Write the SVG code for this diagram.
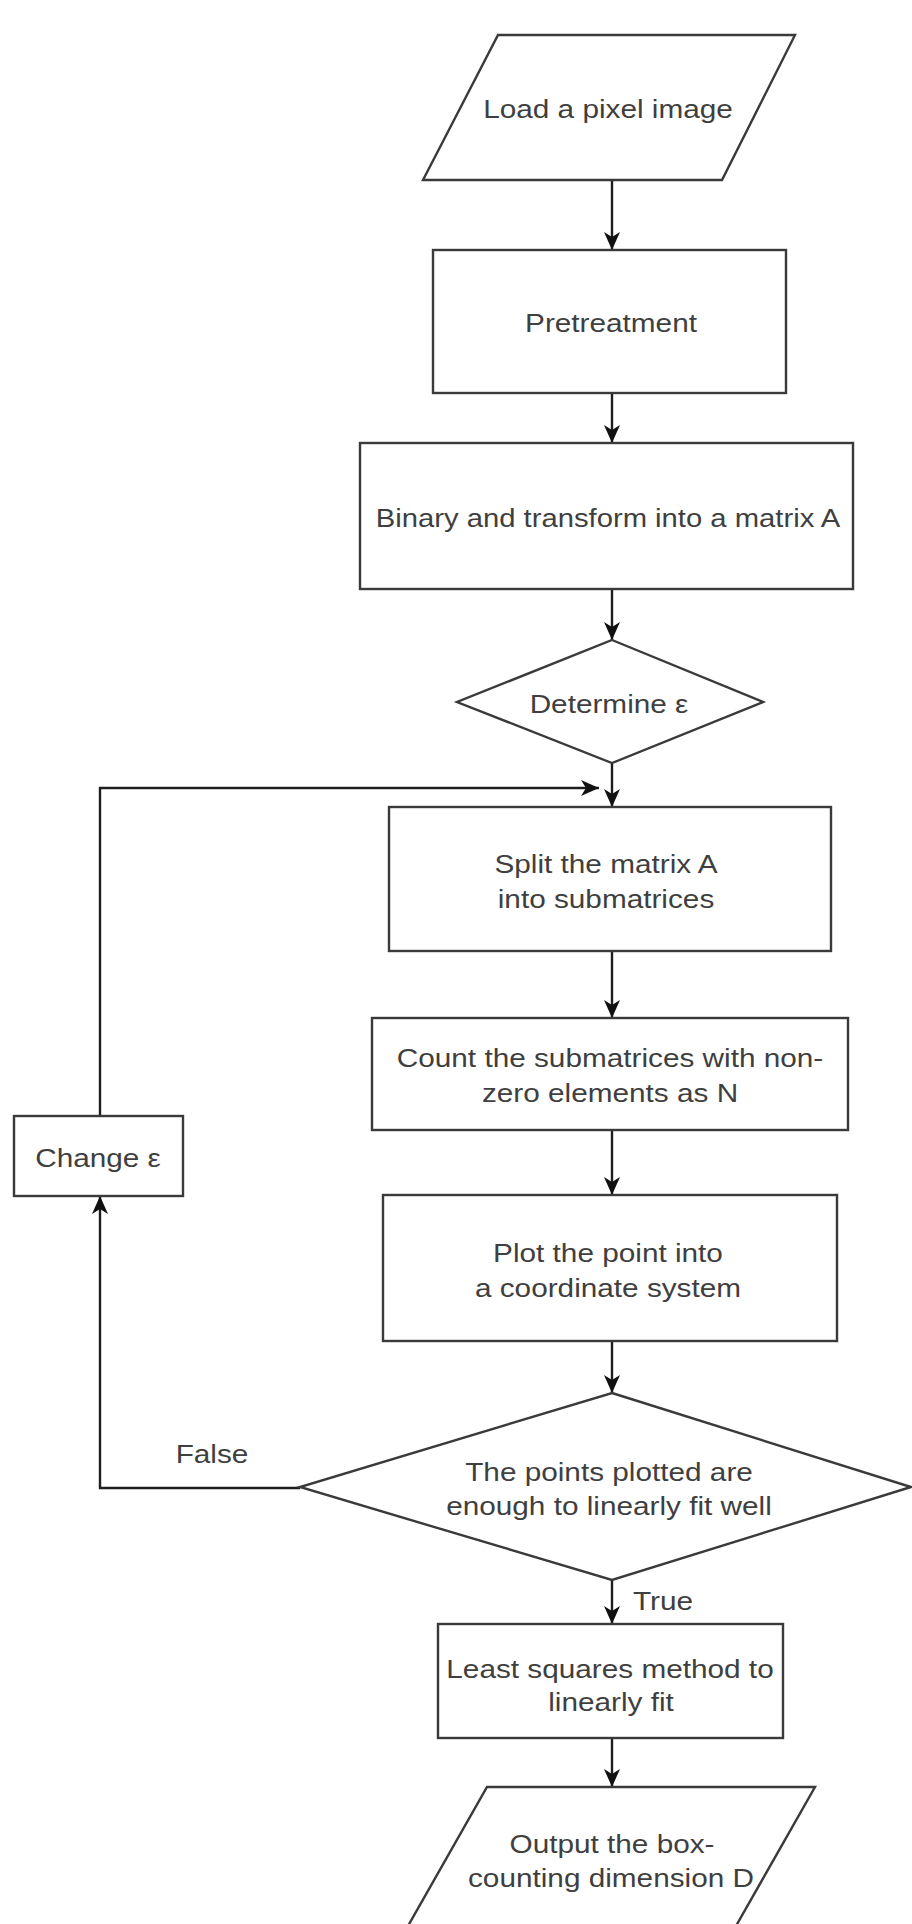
<svg xmlns="http://www.w3.org/2000/svg" width="912" height="1924" viewBox="0 0 912 1924">
<defs>
<style>
.shape{fill:#ffffff;stroke:#3a3a3a;stroke-width:2.4}
.edge{fill:none;stroke:#1e1e1e;stroke-width:2.4}
.lbl{font-family:"Liberation Sans",Arial,sans-serif;font-size:25px;fill:#3f3f3f;text-anchor:middle}
.lbl-s{font-family:"Liberation Sans",Arial,sans-serif;font-size:25px;fill:#3f3f3f;text-anchor:start}
</style>
<marker id="arrow" viewBox="0 0 18 16" refX="18" refY="8" markerWidth="18" markerHeight="16" markerUnits="userSpaceOnUse" orient="auto">
<path d="M0,0 L18,8 L0,16 L5,8 z" fill="#111111"/>
</marker>
</defs>
<rect x="0" y="0" width="912" height="1924" fill="#ffffff"/>

<g id="connectors">
<line class="edge" x1="612" y1="180" x2="612" y2="250" marker-end="url(#arrow)"/>
<line class="edge" x1="612" y1="393" x2="612" y2="443" marker-end="url(#arrow)"/>
<line class="edge" x1="612" y1="589" x2="612" y2="640" marker-end="url(#arrow)"/>
<line class="edge" x1="612" y1="763" x2="612" y2="807" marker-end="url(#arrow)"/>
<polyline class="edge" points="100,1116 100,788 599,788" marker-end="url(#arrow)"/>
<line class="edge" x1="612" y1="951" x2="612" y2="1018" marker-end="url(#arrow)"/>
<line class="edge" x1="612" y1="1130" x2="612" y2="1195" marker-end="url(#arrow)"/>
<line class="edge" x1="612" y1="1341" x2="612" y2="1393" marker-end="url(#arrow)"/>
<polyline class="edge" points="300,1488 100,1488 100,1196" marker-end="url(#arrow)"/>
<line class="edge" x1="612" y1="1580" x2="612" y2="1624" marker-end="url(#arrow)"/>
<line class="edge" x1="612" y1="1738" x2="612" y2="1787" marker-end="url(#arrow)"/>
<text class="lbl" transform="translate(212,1463) scale(1.19,1)">False</text>
<text class="lbl-s" transform="translate(633,1610) scale(1.19,1)">True</text>
</g>

<g id="load">
<polygon class="shape" points="498,35 795,35 722,180 423,180"/>
<text class="lbl" transform="translate(608,118) scale(1.19,1)">Load a pixel image</text>
</g>

<g id="pretreatment">
<rect class="shape" x="433" y="250" width="353" height="143"/>
<text class="lbl" transform="translate(611,332) scale(1.19,1)">Pretreatment</text>
</g>

<g id="binary">
<rect class="shape" x="360" y="443" width="493" height="146"/>
<text class="lbl" transform="translate(608,527) scale(1.17,1)">Binary and transform into a matrix A</text>
</g>

<g id="determine">
<polygon class="shape" points="612,640 763,702 612,763 457,702"/>
<text class="lbl" transform="translate(609,713) scale(1.19,1)">Determine ε</text>
</g>

<g id="split">
<rect class="shape" x="389" y="807" width="442" height="144"/>
<text class="lbl" transform="translate(606,873) scale(1.19,1)">Split the matrix A</text>
<text class="lbl" transform="translate(606,908) scale(1.19,1)">into submatrices</text>
</g>

<g id="count">
<rect class="shape" x="372" y="1018" width="476" height="112"/>
<text class="lbl" transform="translate(610,1067) scale(1.19,1)">Count the submatrices with non-</text>
<text class="lbl" transform="translate(610,1102) scale(1.19,1)">zero elements as N</text>
</g>

<g id="plot">
<rect class="shape" x="383" y="1195" width="454" height="146"/>
<text class="lbl" transform="translate(608,1262) scale(1.19,1)">Plot the point into</text>
<text class="lbl" transform="translate(608,1297) scale(1.19,1)">a coordinate system</text>
</g>

<g id="decision">
<polygon class="shape" points="612,1393 911,1487 612,1580 300,1487"/>
<text class="lbl" transform="translate(609,1481) scale(1.19,1)">The points plotted are</text>
<text class="lbl" transform="translate(609,1515) scale(1.19,1)">enough to linearly fit well</text>
</g>

<g id="change">
<rect class="shape" x="14" y="1116" width="169" height="80"/>
<text class="lbl" transform="translate(98,1167) scale(1.19,1)">Change ε</text>
</g>

<g id="least">
<rect class="shape" x="438" y="1624" width="345" height="114"/>
<text class="lbl" transform="translate(610,1678) scale(1.19,1)">Least squares method to</text>
<text class="lbl" transform="translate(611,1711) scale(1.19,1)">linearly fit</text>
</g>

<g id="output">
<polygon class="shape" points="487,1787 815,1787 732,1933 404,1933"/>
<text class="lbl" transform="translate(612,1853) scale(1.19,1)">Output the box-</text>
<text class="lbl" transform="translate(611,1887) scale(1.19,1)">counting dimension D</text>
</g>
</svg>
